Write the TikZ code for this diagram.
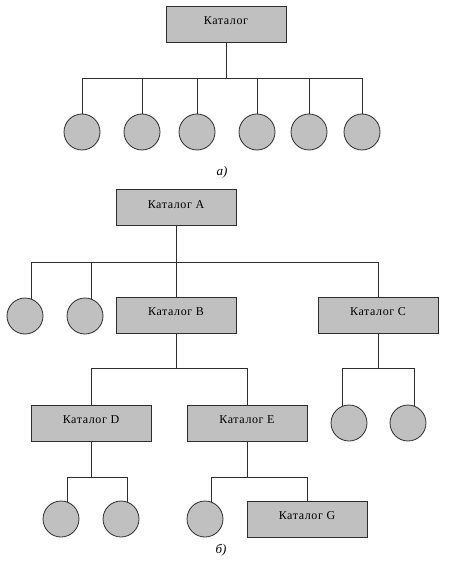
\documentclass[tikz,border=0pt]{standalone}
\usepackage{fontspec}
\setmainfont{Liberation Serif}
\definecolor{katfill}{RGB}{192,192,192}
\definecolor{katline}{RGB}{45,45,45}
\usetikzlibrary{positioning}

\begin{document}
\begin{tikzpicture}[x=1pt, y=-1pt,
    katbox/.style={draw=katline, fill=katfill, line width=0.8pt, minimum width=120pt,
      minimum height=36pt, inner sep=0pt, text height=8pt, text depth=7pt,
      font=\fontsize{12}{14}\selectfont\addfontfeatures{LetterSpace=5}},
    fileleaf/.style={circle, draw=katline, fill=katfill, line width=0.8pt,
      minimum size=36pt, inner sep=0pt},
    link/.style={draw=katline, line width=0.8pt},
    caption/.style={font=\fontsize{13}{15}\selectfont\itshape}]
  \useasboundingbox (0,0) rectangle (448,561);

  % a) single catalog
  \node[katbox] (kat) at (226,24) {Каталог};
  \coordinate (busT) at (226,78);
  \foreach \x [count=\i] in {82,142,197,257,309,362}
    \node[fileleaf] (t\i) at (\x,132) {};
  \draw[link] (kat.south) -- (busT);
  \foreach \i in {1,...,6}
    \draw[link] (busT) -| (t\i.north);
  \node[caption] (capa) at (222,172) {а)};

  % b) catalog tree
  \node[katbox] (katA) at (176,207.5) {Каталог A};
  \node[katbox] (katB) at (176,315) {Каталог B};
  \node[katbox] (katC) at (378,315) {Каталог C};
  \node[katbox] (katD) at (91,423) {Каталог D};
  \node[katbox] (katE) at (247,423) {Каталог E};
  \node[katbox] (katG) at (307,519) {Каталог G};

  \node[fileleaf] (m1) at (25,316) {};
  \node[fileleaf] (m2) at (85,316) {};
  \node[fileleaf] (c1) at (349,423) {};
  \node[fileleaf] (c2) at (408,423) {};
  \node[fileleaf] (d1) at (61,519) {};
  \node[fileleaf] (d2) at (121,519) {};
  \node[fileleaf] (e1) at (205,519) {};

  \coordinate (busA) at (176,262);
  \coordinate (busB) at (176,368);
  \coordinate (busC) at (378,368);
  \coordinate (busD) at (91,477);
  \coordinate (busE) at (247,477);

  \draw[link] (katA.south) -- (busA);
  \draw[link] (busA) -| (m1.70);
  \draw[link] (busA) -| (m2.70);
  \draw[link] (busA) -- (katB.north);
  \draw[link] (busA) -| (katC.north);

  \draw[link] (katB.south) -- (busB);
  \draw[link] (busB) -| (katD.north);
  \draw[link] (busB) -| (katE.north);

  \draw[link] (katC.south) -- (busC);
  \draw[link] (busC) -| (c1.110);
  \draw[link] (busC) -| (c2.70);

  \draw[link] (katD.south) -- (busD);
  \draw[link] (busD) -| (d1.70);
  \draw[link] (busD) -| (d2.70);

  \draw[link] (katE.south) -- (busE);
  \draw[link] (busE) -| (e1.70);
  \draw[link] (busE) -| (katG.north);

  \node[caption] (capb) at (221,550) {б)};
\end{tikzpicture}
\end{document}
